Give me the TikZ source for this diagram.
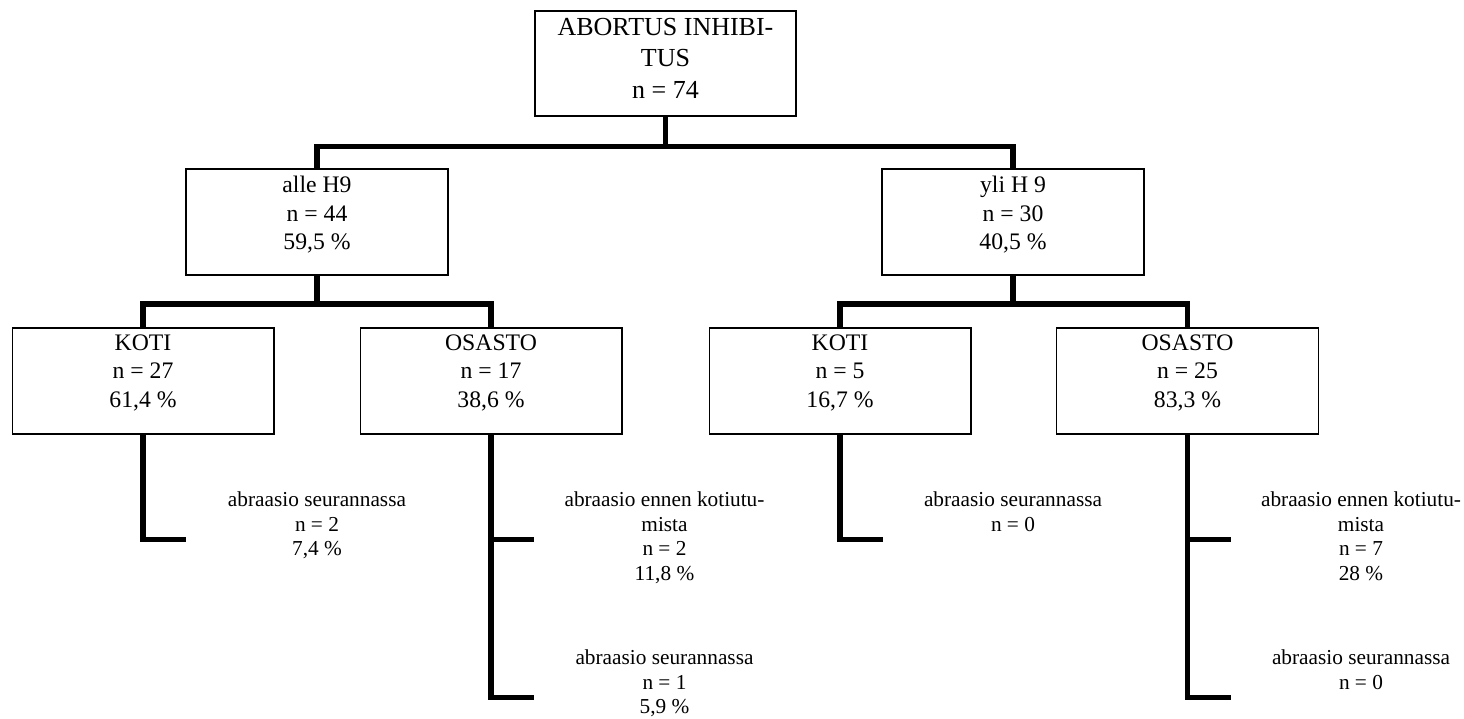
\documentclass[tikz,border=0pt]{standalone}
\usepackage{fontspec}
\setmainfont{Liberation Serif}
\begin{document}
\begin{tikzpicture}[x=1pt,y=-1pt,
  box/.style={draw=black, line width=1.4pt, inner sep=0pt, minimum width=262pt, minimum height=106pt},
  roottxt/.style={anchor=north, inner sep=0pt, align=center, font=\fontsize{26}{31.5}\selectfont},
  boxtxt/.style={anchor=north, inner sep=0pt, align=center, font=\fontsize{23.7}{28.5}\selectfont},
  lbl/.style={anchor=north, inner sep=0pt, align=center, font=\fontsize{21.3}{24.5}\selectfont},
  conn/.style={line width=5.5pt, line join=miter, line cap=butt}]
\useasboundingbox (0,0) rectangle (1464,718);

% boxes
\node[box, minimum width=261pt, minimum height=105pt] (root) at (665.5,63.5) {};
\node[roottxt] (rootT) at ([yshift=-7.5pt]root.north) {ABORTUS INHIBI-\\TUS\\n = 74};

\node[box] (alle) at (317,222) {};
\node[boxtxt] (alleT) at ([yshift=-8pt]alle.north) {alle H9\\n = 44\\59,5 \%};
\node[box] (yli) at (1013,222) {};
\node[boxtxt] (yliT) at ([yshift=-8pt]yli.north) {yli H 9\\n = 30\\40,5 \%};

\node[box, minimum width=261.6pt] (kotiA) at (143,381) {};
\node[boxtxt] (kotiAT) at ([yshift=-7pt]kotiA.north) {KOTI\\n = 27\\61,4 \%};
\node[box, minimum width=261.6pt] (osastoA) at (491,381) {};
\node[boxtxt] (osastoAT) at ([yshift=-7pt]osastoA.north) {OSASTO\\n = 17\\38,6 \%};
\node[box, minimum width=261.6pt] (kotiB) at (840,381) {};
\node[boxtxt] (kotiBT) at ([yshift=-7pt]kotiB.north) {KOTI\\n = 5\\16,7 \%};
\node[box, minimum width=261.6pt] (osastoB) at (1187.5,381) {};
\node[boxtxt] (osastoBT) at ([yshift=-7pt]osastoB.north) {OSASTO\\n = 25\\83,3 \%};

% tree connectors
\coordinate (b1) at (665.5,146.5);
\coordinate (b2) at (317,304);
\coordinate (b3) at (1013,304);
\draw[conn] (root.south) -- (b1);
\draw[conn] (alle.north) |- (b1) -| (yli.north);
\draw[conn] (alle.south) -- (b2);
\draw[conn] (kotiA.north) |- (b2) -| (osastoA.north);
\draw[conn] (yli.south) -- (b3);
\draw[conn] (kotiB.north) |- (b3) -| (osastoB.north);

% leaf connectors
\coordinate (kAe) at (186,539.7);
\coordinate (oAa) at (534,539.7);
\coordinate (oAb) at (534,697.7);
\coordinate (kBe) at (883,539.7);
\coordinate (oBa) at (1231,539.7);
\coordinate (oBb) at (1231,697.7);
\draw[conn] (kotiA.south) |- (kAe);
\draw[conn] (osastoA.south) |- (oAb);
\draw[conn] (osastoA.south |- oAa) -- (oAa);
\draw[conn] (kotiB.south) |- (kBe);
\draw[conn] (osastoB.south) |- (oBb);
\draw[conn] (osastoB.south |- oBa) -- (oBa);

% leaf labels
\node[lbl] (lA1) at (317,492) {abraasio seurannassa\\n = 2\\7,4 \%};
\node[lbl] (lA2) at (664.5,492) {abraasio ennen kotiutu-\\mista\\n = 2\\11,8 \%};
\node[lbl] (lA3) at (664.5,650) {abraasio seurannassa\\n = 1\\5,9 \%};
\node[lbl] (lB1) at (1013,492) {abraasio seurannassa\\n = 0};
\node[lbl] (lB2) at (1361,492) {abraasio ennen kotiutu-\\mista\\n = 7\\28 \%};
\node[lbl] (lB3) at (1361,650) {abraasio seurannassa\\n = 0};
\end{tikzpicture}
\end{document}
